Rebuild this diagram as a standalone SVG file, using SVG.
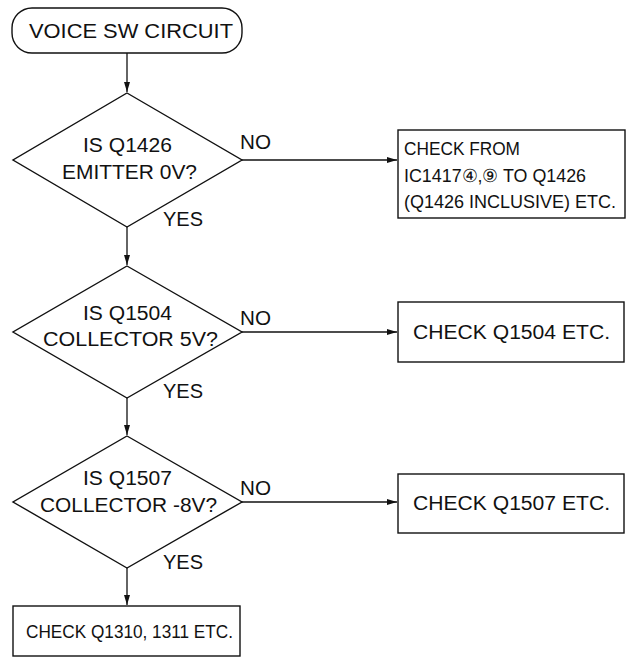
<svg xmlns="http://www.w3.org/2000/svg" width="628" height="664" viewBox="0 0 628 664">
<defs>
<style>
.s{fill:#fff;stroke:#111;stroke-width:1.4}
.t{font-family:"Liberation Sans",Arial,sans-serif;font-size:20px;fill:#111}
.b{font-size:18px}
.c{text-anchor:middle}
.ln{stroke:#111;stroke-width:1.3;fill:none}
</style>
<marker id="ah" viewBox="0 0 10 6" refX="10" refY="3" markerWidth="10" markerHeight="6" markerUnits="userSpaceOnUse" orient="auto">
<path d="M0,0 L10,3 L0,6 Z" fill="#111"/>
</marker>
</defs>
<rect width="628" height="664" fill="#fff"/>
<g id="start">
<rect class="s" x="12" y="8" width="230" height="45" rx="20" ry="20"/>
<text class="t c" x="131" y="38" textLength="204" lengthAdjust="spacingAndGlyphs">VOICE SW CIRCUIT</text>
</g>
<g id="d1">
<polygon class="s" points="127,93 242,160 127,227 13,160"/>
<text class="t" x="83" y="152" textLength="89" lengthAdjust="spacingAndGlyphs">IS Q1426</text>
<text class="t" x="62" y="179" textLength="135" lengthAdjust="spacingAndGlyphs">EMITTER 0V?</text>
</g>
<g id="b1">
<rect class="s" x="398" y="130" width="227" height="88"/>
<text class="t b" x="404" y="155" textLength="116" lengthAdjust="spacingAndGlyphs">CHECK FROM</text>
<text class="t b" x="404" y="182" textLength="182" lengthAdjust="spacingAndGlyphs">IC1417④,⑨ TO Q1426</text>
<text class="t b" x="404" y="208" textLength="212" lengthAdjust="spacingAndGlyphs">(Q1426 INCLUSIVE) ETC.</text>
</g>
<g id="d2">
<polygon class="s" points="127,266 242,332 127,398 13,332"/>
<text class="t" x="83" y="320" textLength="89" lengthAdjust="spacingAndGlyphs">IS Q1504</text>
<text class="t" x="43" y="346" textLength="175" lengthAdjust="spacingAndGlyphs">COLLECTOR 5V?</text>
</g>
<g id="b2">
<rect class="s" x="398" y="302" width="226" height="60"/>
<text class="t" x="413" y="339" textLength="197" lengthAdjust="spacingAndGlyphs">CHECK Q1504 ETC.</text>
</g>
<g id="d3">
<polygon class="s" points="127,436 242,502 127,568 13,502"/>
<text class="t" x="83" y="485" textLength="89" lengthAdjust="spacingAndGlyphs">IS Q1507</text>
<text class="t" x="40" y="512" textLength="177" lengthAdjust="spacingAndGlyphs">COLLECTOR -8V?</text>
</g>
<g id="b3">
<rect class="s" x="398" y="474" width="226" height="59"/>
<text class="t" x="413" y="510" textLength="197" lengthAdjust="spacingAndGlyphs">CHECK Q1507 ETC.</text>
</g>
<g id="b4">
<rect class="s" x="13" y="606" width="227" height="50"/>
<text class="t" x="26" y="638" style="font-size:18px" textLength="207" lengthAdjust="spacingAndGlyphs">CHECK Q1310, 1311 ETC.</text>
</g>
<g id="connectors">
<line class="ln" x1="127" y1="53" x2="127" y2="92" marker-end="url(#ah)"/>
<line class="ln" x1="242" y1="160" x2="397" y2="160" marker-end="url(#ah)"/>
<line class="ln" x1="127" y1="227" x2="127" y2="265" marker-end="url(#ah)"/>
<line class="ln" x1="242" y1="332" x2="397" y2="332" marker-end="url(#ah)"/>
<line class="ln" x1="127" y1="398" x2="127" y2="435" marker-end="url(#ah)"/>
<line class="ln" x1="242" y1="502" x2="397" y2="502" marker-end="url(#ah)"/>
<line class="ln" x1="127" y1="568" x2="127" y2="605" marker-end="url(#ah)"/>
<text class="t" x="240" y="149" textLength="31" lengthAdjust="spacingAndGlyphs">NO</text>
<text class="t" x="163" y="226" textLength="40" lengthAdjust="spacingAndGlyphs">YES</text>
<text class="t" x="240" y="325" textLength="31" lengthAdjust="spacingAndGlyphs">NO</text>
<text class="t" x="163" y="398" textLength="40" lengthAdjust="spacingAndGlyphs">YES</text>
<text class="t" x="240" y="495" textLength="31" lengthAdjust="spacingAndGlyphs">NO</text>
<text class="t" x="163" y="569" textLength="40" lengthAdjust="spacingAndGlyphs">YES</text>
</g>
</svg>
